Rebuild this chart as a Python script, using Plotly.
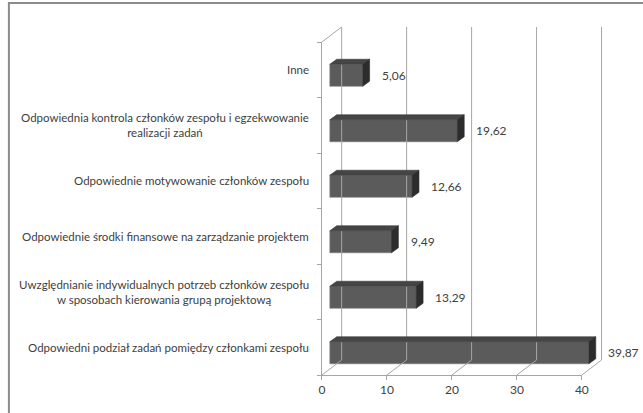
import plotly.graph_objects as go

# ---- data -------------------------------------------------------------
categories = [
    "Odpowiedni podział zadań pomiędzy członkami zespołu",
    "Uwzględnianie indywidualnych potrzeb członków zespołu<br>w sposobach kierowania grupą projektową",
    "Odpowiednie środki finansowe na zarządzanie projektem",
    "Odpowiednie motywowanie członków zespołu",
    "Odpowiednia kontrola członków zespołu i egzekwowanie<br>realizacji zadań",
    "Inne",
]
values = [39.87, 13.29, 9.49, 12.66, 19.62, 5.06]
value_labels = ["39,87", "13,29", "9,49", "12,66", "19,62", "5,06"]
x_ticks = [0, 10, 20, 30, 40]

# ---- geometry of the pseudo-3D frame (pixels) ------------------------
W, H = 643, 413
FX0, FX1 = 324, 588          # front plane: value 0 and value 40
FYB, FYT = 375, 42           # front plane: bottom and top edge
XMAX = 40
N = len(categories)
PXU = (FX1 - FX0) / XMAX     # px per value unit
PYU = (FYB - FYT) / N        # px per category unit

WALL_DX, WALL_DY = 20, 15    # depth of walls / floor
BAR_OFF_X, BAR_OFF_Y = 8, 5.5
BAR_DX, BAR_DY = 7, 5
BAR_H = 22

# data-unit versions
wdx, wdy = WALL_DX / PXU, WALL_DY / PYU
box, boy = BAR_OFF_X / PXU, BAR_OFF_Y / PYU
bdx, bdy = BAR_DX / PXU, BAR_DY / PYU
bh = BAR_H / PYU

# full-canvas axis ranges (x2/y2 span the whole figure)
x2_range = [-FX0 / PXU, (W - FX0) / PXU]
y2_range = [-0.5 - (H - FYB) / PYU, -0.5 + FYB / PYU]

GRID = "#a6a6a6"
TXT = "#404040"
FONT = "Lato"

fig = go.Figure()

# invisible trace so the front (x/y) subplot is created and its axes drawn
fig.add_trace(go.Scatter(x=[0], y=[0], mode="markers", marker=dict(opacity=0),
                         xaxis="x", yaxis="y", hoverinfo="skip", showlegend=False))

# back-wall gridlines, floor diagonals and left wall outline
gx, gy = [], []
top_c, bot_c = N - 0.5, -0.5
for t in x_ticks:
    gx += [t + wdx, t + wdx, None]
    gy += [bot_c + wdy, top_c + wdy, None]
    gx += [t, t + wdx, None]
    gy += [bot_c, bot_c + wdy, None]
gx += [0, wdx, None]
gy += [top_c, top_c + wdy, None]
fig.add_trace(go.Scatter(x=gx, y=gy, mode="lines", line=dict(color=GRID, width=1),
                         xaxis="x2", yaxis="y2", hoverinfo="skip", showlegend=False))

# bars: front faces
centers = [i - boy for i in range(N)]
fig.add_trace(go.Bar(
    x=values, y=centers, base=[box] * N, orientation="h", width=bh,
    marker=dict(color="#5b5b5b", line=dict(color="#7a7a7a", width=0.6)),
    xaxis="x2", yaxis="y2", hoverinfo="skip", showlegend=False,
))

# bars: top and side faces
for v, c in zip(values, centers):
    x_end = box + v
    top = c + bh / 2
    bot = c - bh / 2
    fig.add_trace(go.Scatter(
        x=[box, x_end, x_end + bdx, box + bdx, box],
        y=[top, top, top + bdy, top + bdy, top],
        fill="toself", fillcolor="#454545", mode="lines",
        line=dict(color="#3a3a3a", width=0.6),
        xaxis="x2", yaxis="y2", hoverinfo="skip", showlegend=False))
    fig.add_trace(go.Scatter(
        x=[x_end, x_end, x_end + bdx, x_end + bdx, x_end],
        y=[bot, top, top + bdy, bot + bdy, bot],
        fill="toself", fillcolor="#2c2c2c", mode="lines",
        line=dict(color="#2c2c2c", width=0.6),
        xaxis="x2", yaxis="y2", hoverinfo="skip", showlegend=False))

annotations = []
# value labels
for v, c, lab in zip(values, centers, value_labels):
    annotations.append(dict(
        x=box + v, y=c, xref="x2", yref="y2", text=lab, showarrow=False,
        xanchor="left", yanchor="middle", xshift=17,
        font=dict(family=FONT, size=12, color=TXT)))
# category labels
for i, cat in enumerate(categories):
    annotations.append(dict(
        x=313 / W, y=i, xref="paper", yref="y2", text=cat, showarrow=False,
        xanchor="right", yanchor="middle", align="center",
        font=dict(family=FONT, size=11.5, color=TXT)))

fig.update_layout(
    width=W, height=H,
    margin=dict(l=0, r=0, t=0, b=0),
    paper_bgcolor="white", plot_bgcolor="rgba(0,0,0,0)",
    annotations=annotations,
    # front axes (ticks, labels and front edges of the frame)
    xaxis=dict(domain=[FX0 / W, FX1 / W], range=[0, XMAX], tickvals=x_ticks,
               showline=True, linecolor=GRID, linewidth=1, ticks="outside",
               ticklen=4, tickcolor=GRID, showgrid=False, zeroline=False,
               tickfont=dict(family=FONT, size=12, color=TXT), fixedrange=True),
    yaxis=dict(domain=[(H - FYB) / H, (H - FYT) / H], range=[-0.5, N - 0.5],
               tickvals=[i - 0.5 for i in range(N + 1)], showticklabels=False,
               showline=True, linecolor=GRID, linewidth=1, ticks="outside",
               ticklen=4, tickcolor=GRID, showgrid=False, zeroline=False,
               fixedrange=True),
    # full-canvas axes for the 3D geometry
    xaxis2=dict(domain=[0, 1], range=x2_range, anchor="y2", visible=False, fixedrange=True),
    yaxis2=dict(domain=[0, 1], range=y2_range, anchor="x2", visible=False, fixedrange=True),
    shapes=[dict(type="rect", xref="paper", yref="paper",
                 x0=6 / W, x1=1.05, y0=-0.05, y1=1 - 3 / H,
                 line=dict(color="#8c8c8c", width=2), layer="above")],
)

fig.write_html("out.html")
